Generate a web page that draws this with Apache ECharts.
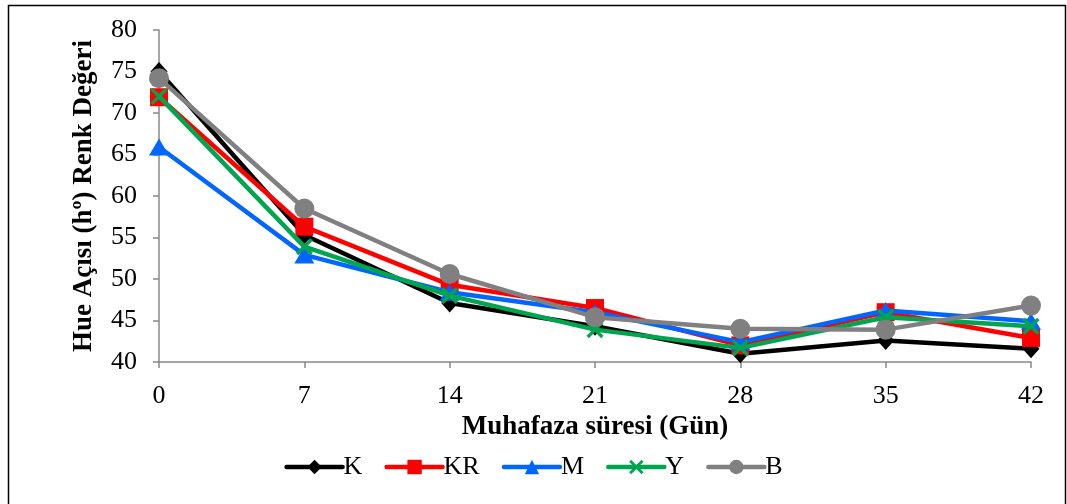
<!DOCTYPE html>
<html><head><meta charset="utf-8">
<script src="https://cdn.jsdelivr.net/npm/echarts@6/dist/echarts.min.js"></script>
<style>html,body{margin:0;padding:0;background:#fff}#c{width:1067px;height:504px}</style>
</head><body><div id="c"></div>
<script>
const days = [0, 7, 14, 21, 28, 35, 42];
const seriesNames = ['K', 'KR', 'M', 'Y', 'B'];
const K  = [75.0, 55.3, 47.1, 44.3, 41.0, 42.6, 41.6];
const KR = [71.9, 56.3, 49.3, 46.5, 42.0, 46.0, 42.9];
const M  = [65.9, 52.9, 48.4, 46.0, 42.4, 46.2, 44.9];
const Y  = [72.0, 53.9, 48.0, 43.9, 41.7, 45.4, 44.3];
const B  = [74.2, 58.5, 50.6, 45.4, 44.0, 43.9, 46.8];
const yTicks = [40, 45, 50, 55, 60, 65, 70, 75, 80];

const xShape = 'path://M0,1.4L1.4,0L5,3.6L8.6,0L10,1.4L6.4,5L10,8.6L8.6,10L5,6.4L1.4,10L0,8.6L3.6,5Z';
const styles = [
  {data: K, color: '#000000', symbol: 'diamond', size: [17, 19]},
  {data: KR, color: '#ff0000', symbol: 'rect', size: 18},
  {data: M, color: '#0066ff', symbol: 'triangle', size: [20, 17]},
  {data: Y, color: '#00a550', symbol: xShape, size: 17},
  {data: B, color: '#808080', symbol: 'circle', size: 20}
];
const font = '"Liberation Serif", "Times New Roman", serif';
const chart = echarts.init(document.getElementById('c'), null, {renderer: 'canvas'});
chart.setOption({
  animation: false,
  textStyle: {fontFamily: font},
  graphic: [{type: 'rect', shape: {x: 8.5, y: 5.5, width: 1057, height: 510}, style: {fill: 'none', stroke: '#000', lineWidth: 1.5}, silent: true}],
  grid: {left: 159, right: 36, top: 30, bottom: 142, containLabel: false},
  legend: {
    bottom: 19, left: 'center', itemWidth: 56, itemHeight: 18, itemGap: 22,
    data: seriesNames,
    lineStyle: {width: 4.5, cap: 'round'},
    textStyle: {fontFamily: font, fontSize: 26, color: '#000', padding: [0, 0, 0, -4]}
  },
  xAxis: {
    type: 'value', min: 0, max: 42, interval: 7,
    name: 'Muhafaza süresi (Gün)', nameLocation: 'middle', nameGap: 50,
    nameTextStyle: {fontFamily: font, fontSize: 27, fontWeight: 'bold', color: '#000'},
    axisLine: {show: true, lineStyle: {color: '#888', width: 1.5}},
    axisTick: {show: true, length: 6, lineStyle: {color: '#888', width: 1.5}},
    axisLabel: {fontFamily: font, fontSize: 26, color: '#000', margin: 21},
    splitLine: {show: false}
  },
  yAxis: {
    type: 'value', min: 40, max: 80, interval: 5,
    name: 'Hue Açısı (hº) Renk Değeri', nameLocation: 'middle', nameGap: 61,
    nameTextStyle: {fontFamily: font, fontSize: 27, fontWeight: 'bold', color: '#000'},
    axisLine: {show: true, lineStyle: {color: '#888', width: 1.5}},
    axisTick: {show: true, length: 6, lineStyle: {color: '#888', width: 1.5}},
    axisLabel: {fontFamily: font, fontSize: 26, color: '#000', margin: 22},
    splitLine: {show: false}
  },
  series: styles.map((s, i) => ({
    name: seriesNames[i], type: 'line',
    data: days.map((d, j) => [d, s.data[j]]),
    symbol: s.symbol, symbolSize: s.size, showAllSymbol: true,
    lineStyle: {color: s.color, width: 4.5},
    itemStyle: {color: s.color, borderWidth: 0},
    z: 2 + i
  }))
});
</script></body></html>
